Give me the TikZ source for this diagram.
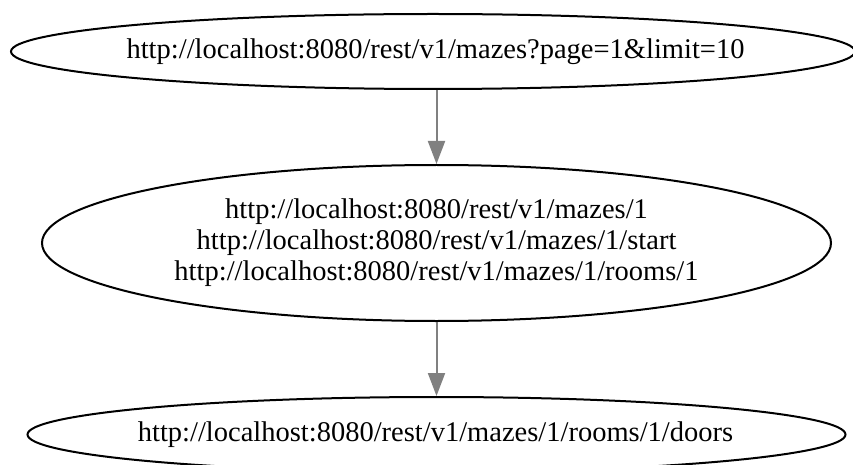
\documentclass[tikz,border=0pt]{standalone}
\usepackage{fontspec}
\setmainfont{Liberation Serif}
\usetikzlibrary{arrows.meta,shapes.geometric}
\begin{document}
\begin{tikzpicture}[x=1pt,y=1pt,
  urlshape/.style={ellipse,draw=black,line width=2pt,inner sep=0pt},
  urltext/.style={inner sep=0pt,align=center,font=\fontsize{28.5}{31}\selectfont},
  link/.style={draw=gray,line width=2pt,-{Triangle[length=23pt,width=17pt]}}]
\useasboundingbox (0,0) rectangle (853,464);
\node[urlshape,minimum width=844pt,minimum height=75pt] (top) at (433,412.5) {};
\node[urltext] (toptext) at (435.5,412.5) {http://localhost:8080/rest/v1/mazes?page=1\&limit=10};
\node[urlshape,minimum width=789pt,minimum height=156pt] (mid) at (436.5,221) {};
\node[urltext] (midtext) at (436.5,221) {http://localhost:8080/rest/v1/mazes/1\\http://localhost:8080/rest/v1/mazes/1/start\\http://localhost:8080/rest/v1/mazes/1/rooms/1};
\node[urlshape,minimum width=818pt,minimum height=75pt] (bot) at (436.5,29.5) {};
\node[urltext] (bottext) at (435.5,29.5) {http://localhost:8080/rest/v1/mazes/1/rooms/1/doors};
\draw[link] (mid.north |- top.south) -- (mid.north);
\draw[link] (mid.south) -- (bot.north);
\end{tikzpicture}
\end{document}
